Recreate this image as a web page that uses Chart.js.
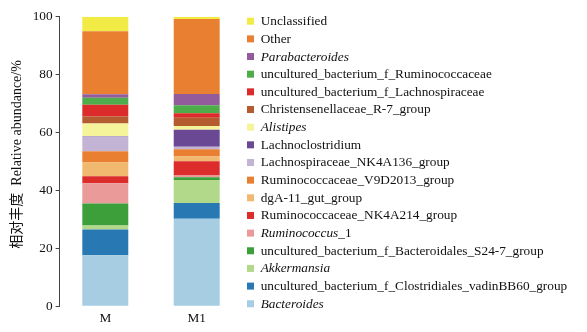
<!DOCTYPE html>
<html>
<head>
<meta charset="utf-8">
<script src="https://cdn.jsdelivr.net/npm/chart.js@4/dist/chart.umd.min.js"></script>
<style>
  body { margin: 0; background: #fff; }
</style>
</head>
<body>
<canvas id="abundanceChart" width="587" height="332"></canvas>
<script>
// samples
var samples = ['M', 'M1'];

// taxa, bottom of the stack first
var taxa = [
  'Bacteroides',
  'uncultured_bacterium_f_Clostridiales_vadinBB60_group',
  'Akkermansia',
  'uncultured_bacterium_f_Bacteroidales_S24-7_group',
  'Ruminococcus_1',
  'Ruminococcaceae_NK4A214_group',
  'dgA-11_gut_group',
  'Ruminococcaceae_V9D2013_group',
  'Lachnospiraceae_NK4A136_group',
  'Lachnoclostridium',
  'Alistipes',
  'Christensenellaceae_R-7_group',
  'uncultured_bacterium_f_Lachnospiraceae',
  'uncultured_bacterium_f_Ruminococcaceae',
  'Parabacteroides',
  'Other',
  'Unclassified'
];

// relative abundance (%) per taxon, same order as taxa
var valuesM  = [17.6, 8.9, 1.4, 7.6, 7.0, 2.4, 4.7, 3.9, 5.1, 0.2, 4.3, 2.4, 4.1, 2.4, 1.2, 21.8, 5.0];
var valuesM1 = [30.2, 5.4, 8.0, 0.9, 0.6, 5.0, 1.6, 2.5, 0.9, 5.8, 1.3, 2.9, 1.5, 2.8, 3.9, 25.9, 0.8];

var colors = [
  '#a6cde2', '#2878b4', '#b2d98a', '#3d9f3a', '#ea9a99', '#dc2c2b',
  '#f1b96f', '#e98031', '#c3b3d4', '#6a4894', '#f6f49b', '#b45b2f',
  '#dd2a2a', '#4fac4b', '#945b9c', '#e98031', '#f2ea45'
];

// genus names set in italics in the legend
var italicGenera = ['Bacteroides', 'Akkermansia', 'Ruminococcus', 'Alistipes', 'Parabacteroides'];

var yTicks = [0, 20, 40, 60, 80, 100];

var serif = "'Liberation Serif', 'Times New Roman', 'Noto Sans CJK SC', serif";

var datasets = [];
for (var i = 0; i < taxa.length; i++) {
  datasets.push({
    label: taxa[i],
    data: [valuesM[i], valuesM1[i]],
    backgroundColor: colors[i],
    borderWidth: 0,
    barPercentage: 0.503,
    categoryPercentage: 1.0
  });
}

// legend drawn beside the plot, top of the stack first
var sideLegend = {
  id: 'sideLegend',
  afterDraw: function (chart) {
    var ctx = chart.ctx;
    var sets = chart.data.datasets;
    var boxX = chart.chartArea.right + 4.6;
    var top = 21.7;
    var step = 17.66;
    var size = 13.3;

    ctx.save();
    ctx.textBaseline = 'middle';
    ctx.textAlign = 'left';
    for (var k = 0; k < sets.length; k++) {
      var ds = sets[sets.length - 1 - k];
      var y = top + k * step;
      ctx.fillStyle = ds.backgroundColor;
      ctx.fillRect(boxX, y - 4, 7, 7);

      var x = boxX + 13.7;
      var text = ds.label;
      var genus = null;
      for (var g = 0; g < italicGenera.length; g++) {
        if (text.indexOf(italicGenera[g]) === 0) { genus = italicGenera[g]; break; }
      }
      ctx.fillStyle = '#111';
      if (genus) {
        ctx.font = 'italic ' + size + 'px ' + serif;
        ctx.fillText(genus, x, y);
        x += ctx.measureText(genus).width;
        text = text.slice(genus.length);
      }
      if (text) {
        ctx.font = size + 'px ' + serif;
        ctx.fillText(text, x, y);
      }
    }
    ctx.restore();
  }
};

new Chart(document.getElementById('abundanceChart'), {
  type: 'bar',
  data: {
    labels: samples,
    datasets: datasets
  },
  options: {
    responsive: false,
    animation: false,
    layout: {
      padding: { left: 4, right: 344.6, top: 16.7, bottom: 1.9 }
    },
    scales: {
      x: {
        stacked: true,
        grid: { display: false, drawTicks: false },
        border: { display: false },
        ticks: {
          padding: 4,
          color: '#111',
          font: { family: serif, size: 13.3 }
        }
      },
      y: {
        stacked: true,
        min: 0,
        max: 100,
        afterFit: function (scale) { scale.width = 55.6; },
        afterBuildTicks: function (scale) {
          scale.ticks = yTicks.map(function (v) { return { value: v }; });
        },
        grid: { drawOnChartArea: false, tickLength: 4, color: '#444' },
        border: { display: true, color: '#444', width: 1 },
        ticks: {
          padding: 3,
          color: '#111',
          font: { family: serif, size: 13.3 }
        },
        title: {
          display: true,
          text: '    相对丰度  Relative abundance/%',
          color: '#111',
          font: { family: serif, size: 14 },
          padding: { top: 5, bottom: 4 }
        }
      }
    },
    plugins: {
      legend: { display: false },
      tooltip: { enabled: false }
    }
  },
  plugins: [sideLegend]
});
</script>
</body>
</html>
